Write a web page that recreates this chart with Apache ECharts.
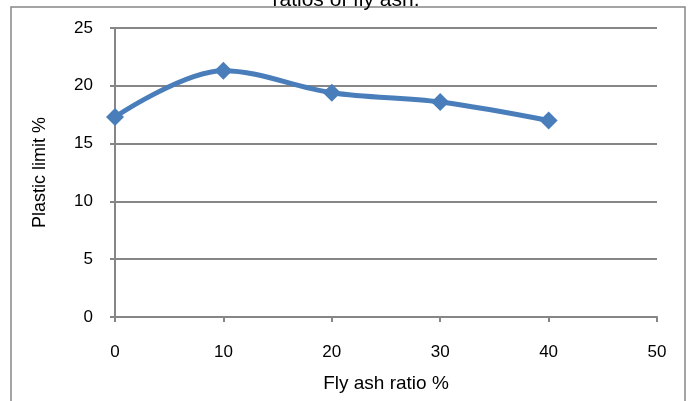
<!DOCTYPE html>
<html>
<head>
<meta charset="utf-8">
<script src="https://cdn.jsdelivr.net/npm/echarts@6/dist/echarts.min.js"></script>
<style>
  html, body { margin: 0; padding: 0; background: #fff; }
  #chart { width: 692px; height: 401px; }
</style>
</head>
<body>
<div id="chart"></div>
<script>
// Fly ash ratio (%) against plastic limit (%)
const flyAshRatio = [0, 10, 20, 30, 40];
const plasticLimit = [17.3, 21.3, 19.4, 18.6, 17.0];
const xTicks = [0, 10, 20, 30, 40, 50];
const yTicks = [0, 5, 10, 15, 20, 25];

const chart = echarts.init(document.getElementById('chart'));
const font = 'Liberation Sans, Arial, sans-serif';

chart.setOption({
  animation: false,
  backgroundColor: '#fff',
  graphic: [
    {
      type: 'rect',
      shape: { x: 11, y: 7, width: 674, height: 420 },
      style: { fill: 'none', stroke: '#868686', lineWidth: 1.5 },
      z: 0
    },
    {
      type: 'text',
      left: 'center',
      top: -10,
      z: 10,
      style: {
        text: 'ratios of fly ash.',
        font: '21px ' + font,
        fill: '#000'
      }
    }
  ],
  grid: { left: 115, right: 35, top: 28, bottom: 84 },
  xAxis: {
    type: 'value',
    min: xTicks[0],
    max: xTicks[xTicks.length - 1],
    interval: 10,
    name: 'Fly ash ratio %',
    nameLocation: 'middle',
    nameGap: 57,
    nameTextStyle: { fontFamily: font, fontSize: 19, color: '#000' },
    axisLine: { lineStyle: { color: '#868686', width: 2 } },
    axisTick: { show: true, length: 5, lineStyle: { color: '#868686', width: 2 } },
    axisLabel: { fontFamily: font, fontSize: 17, color: '#000', margin: 27 },
    splitLine: { show: false }
  },
  yAxis: {
    type: 'value',
    min: yTicks[0],
    max: yTicks[yTicks.length - 1],
    interval: 5,
    name: 'Plastic limit %',
    nameLocation: 'middle',
    nameGap: 66,
    nameTextStyle: { fontFamily: font, fontSize: 18, color: '#000' },
    axisLine: { show: true, lineStyle: { color: '#868686', width: 2 } },
    axisTick: { show: true, length: 5, lineStyle: { color: '#868686', width: 2 } },
    axisLabel: { fontFamily: font, fontSize: 17, color: '#000', margin: 22 },
    splitLine: { show: true, lineStyle: { color: '#868686', width: 2 } }
  },
  series: [{
    type: 'line',
    data: flyAshRatio.map((x, i) => [x, plasticLimit[i]]),
    smooth: 0.35,
    symbol: 'diamond',
    symbolSize: 18,
    lineStyle: { color: '#4a7ebb', width: 5 },
    itemStyle: { color: '#4a7ebb' }
  }]
});
</script>
</body>
</html>
